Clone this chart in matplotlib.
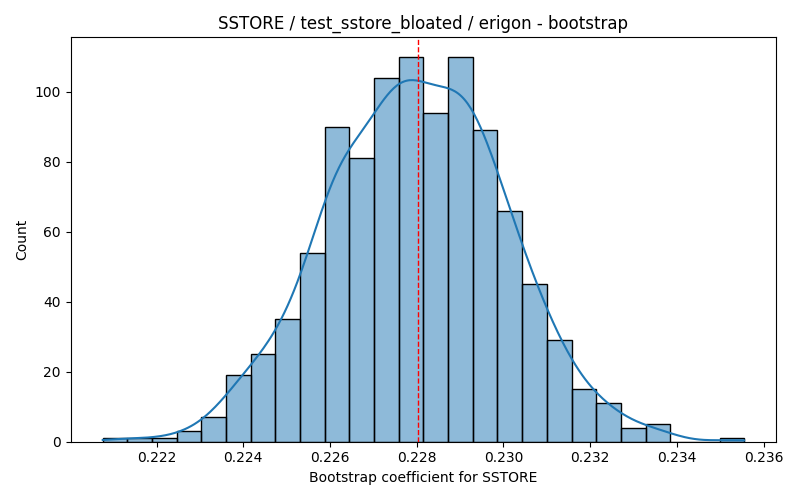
import numpy as np
import matplotlib
matplotlib.use("Agg")
import matplotlib.pyplot as plt
from matplotlib.colors import to_rgba

# Histogram (26 bins)
bin_start = 0.22076
bin_end = 0.23555
counts = [1, 1, 1, 3, 7, 19, 25, 35, 54, 90, 81, 104, 110,
          94, 110, 89, 66, 45, 29, 15, 11, 4, 5, 0, 0, 1]
mean_value = 0.22802

edges = np.linspace(bin_start, bin_end, len(counts) + 1)
centers = (edges[:-1] + edges[1:]) / 2
width = edges[1] - edges[0]
weights = np.array(counts, dtype=float)

fig, ax = plt.subplots(figsize=(8, 5))
ax.bar(edges[:-1], counts, width=width, align="edge",
       facecolor=to_rgba("C0", 0.5), edgecolor="black", linewidth=1)

# KDE of the binned values (Scott bandwidth on n samples), scaled to counts
# the within-bin spread is added back to the kernel width
n = weights.sum()
mu = np.sum(weights * centers) / n
sd = np.sqrt(np.sum(weights * (centers - mu) ** 2) / n)
bw = np.sqrt((sd * n ** (-1 / 5)) ** 2 + width ** 2 / 12)
xs = np.linspace(bin_start, bin_end, 400)
dens = np.sum(weights[None, :] * np.exp(-0.5 * ((xs[:, None] - centers[None, :]) / bw) ** 2),
              axis=1) / (n * bw * np.sqrt(2 * np.pi))
ax.plot(xs, dens * n * width, color="C0", linewidth=1.5)

ax.axvline(mean_value, color="red", linestyle="--", linewidth=1)
ax.set_title("SSTORE / test_sstore_bloated / erigon - bootstrap")
ax.set_xlabel("Bootstrap coefficient for SSTORE")
ax.set_ylabel("Count")

plt.tight_layout()
plt.savefig("out.png", dpi=100)
